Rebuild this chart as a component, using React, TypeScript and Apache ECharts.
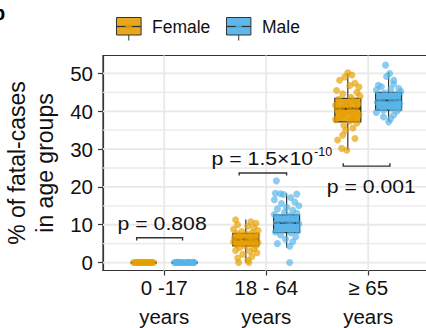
import React, { useEffect, useRef } from 'react';
import * as echarts from 'echarts';

// ---------- data ----------
const categories = ['0 -17\nyears', '18 - 64\nyears', '≥ 65\nyears'];
const yTicks = [0, 10, 20, 30, 40, 50];
const yMinorTicks = [5, 15, 25, 35, 45];
const xTicks = [1, 2, 3];

// [low whisker, q1, median, q3, high whisker] per age group
const femaleBox = [
  [0, 0, 0, 0, 0],
  [0, 4.4, 6.1, 7.7, 11.4],
  [29.7, 37.2, 40.7, 43.4, 50.0],
];
const maleBox = [
  [0, 0, 0, 0, 0],
  [3.9, 7.9, 10.5, 12.6, 18.3],
  [37.2, 40.3, 42.9, 45.0, 50.3],
];

// jittered points: [horizontal jitter, value]
const g1Female = [
  [-0.1, 0], [-0.085, 0], [-0.07, 0], [-0.055, 0], [-0.04, 0], [-0.025, 0], [-0.01, 0],
  [0.005, 0], [0.02, 0], [0.035, 0], [0.05, 0], [0.065, 0], [0.08, 0], [0.095, 0],
  [-0.062, 0.1], [0.028, 0.1], [0.072, 0.05], [-0.018, 0.05],
];
const g1Male = [
  [-0.1, 0], [-0.085, 0], [-0.07, 0], [-0.055, 0], [-0.04, 0], [-0.025, 0], [-0.01, 0],
  [0.005, 0], [0.02, 0], [0.035, 0], [0.05, 0], [0.065, 0], [0.08, 0], [0.095, 0],
  [-0.048, 0.1], [0.042, 0.1], [0.088, 0.05], [-0.078, 0.05],
];
const g2Female = [
  [-0.10, 11.3], [0.05, 10.8], [0.10, 10.4], [-0.08, 10.0], [0.02, 9.6], [0.08, 9.2],
  [-0.12, 8.8], [0.12, 8.5], [-0.04, 8.2], [0.06, 7.9], [-0.09, 7.7], [0.01, 7.5],
  [0.11, 7.2], [-0.06, 7.0], [0.04, 6.8], [-0.11, 6.6], [0.09, 6.4], [-0.02, 6.2],
  [0.07, 6.1], [-0.07, 5.9], [0.03, 5.7], [-0.12, 5.5], [0.12, 5.3], [-0.04, 5.1],
  [0.05, 4.9], [-0.09, 4.7], [0.10, 4.5], [0.00, 4.4], [-0.06, 4.0], [0.08, 3.6],
  [-0.10, 3.2], [0.04, 3.0], [0.11, 2.6], [-0.03, 2.2], [0.06, 1.6], [-0.08, 1.2],
  [0.02, 0.6], [-0.07, 0], [0.03, 0],
];
const g2Male = [
  [-0.10, 21.6], [-0.11, 18.3], [-0.06, 18.2], [-0.03, 18.0], [0.10, 18.1], [0.04, 17.2],
  [-0.12, 16.6], [0.08, 16.0], [-0.05, 15.6], [0.12, 15.0], [0.00, 14.6], [-0.09, 14.2],
  [0.06, 13.8], [-0.02, 13.3], [0.10, 13.0], [-0.12, 12.7], [0.03, 12.4], [-0.07, 12.0],
  [0.09, 11.6], [-0.04, 11.2], [0.05, 10.9], [-0.10, 10.5], [0.12, 10.2], [0.01, 9.9],
  [-0.08, 9.5], [0.07, 9.2], [-0.03, 8.8], [0.11, 8.4], [-0.11, 8.1], [0.04, 7.8],
  [-0.06, 7.3], [0.09, 6.8], [-0.01, 6.2], [0.06, 5.5], [-0.09, 5.0], [0.03, 4.3],
  [0.03, 0],
];
const g3Female = [
  [0.00, 50.2], [0.04, 49.6], [-0.03, 49.1], [0.07, 47.4], [-0.08, 48.2], [0.11, 46.4],
  [0.02, 46.8], [-0.11, 45.5], [0.09, 45.0], [-0.05, 44.6], [0.12, 44.0], [0.03, 43.7],
  [-0.09, 43.2], [0.06, 42.8], [-0.02, 42.4], [0.10, 42.0], [-0.12, 41.6], [0.01, 41.2],
  [-0.06, 40.9], [0.08, 40.6], [-0.10, 40.2], [0.04, 39.8], [-0.03, 39.4], [0.11, 39.0],
  [-0.07, 38.6], [0.06, 38.2], [-0.12, 37.8], [0.02, 37.4], [0.09, 36.9], [-0.04, 36.3],
  [0.05, 35.6], [-0.02, 35.0], [-0.05, 33.7], [0.07, 32.8], [-0.10, 32.4], [-0.06, 30.2],
  [-0.01, 29.7],
];
const g3Male = [
  [-0.03, 52.2], [0.01, 50.0], [-0.02, 49.2], [0.05, 48.2], [-0.10, 46.9], [-0.07, 46.5],
  [0.05, 47.2], [0.10, 46.0], [-0.12, 45.6], [0.02, 45.8], [0.12, 45.2], [-0.04, 44.8],
  [0.07, 44.4], [-0.09, 44.0], [0.00, 43.7], [0.09, 43.3], [-0.06, 43.0], [0.04, 42.7],
  [-0.11, 42.4], [0.11, 42.1], [-0.01, 41.8], [0.06, 41.5], [-0.08, 41.2], [0.03, 40.9],
  [0.10, 40.6], [-0.05, 40.3], [0.08, 40.0], [-0.12, 39.7], [0.05, 39.0], [-0.05, 38.5],
  [0.02, 38.0], [0.00, 37.2],
];
const femalePoints = [g1Female, g2Female, g3Female];
const malePoints = [g1Male, g2Male, g3Male];

// significance brackets
const bracketX1 = [0.73, 1.735, 2.755];
const bracketX2 = [1.18, 2.2, 3.213];
const bracketY = [6.55, 23.7, 25.5];
const bracketTip = [-0.7, -0.7, 0.75];
const pText = ['p = 0.808', 'p = 1.5×10', 'p = 0.001'];
const pSup = ['', '-10', ''];
const pX = [0.98, 2.46, 3.03];
const pY = [10.3, 27.4, 20.0];
const pAlign = ['center', 'right', 'center'];

// ---------- styles ----------
const FEMALE = '#E69F00';
const MALE = '#56B4E9';
const FEMALE_FILL = '#E9A71E';
const MALE_FILL = '#5FB8EA';
const DARK = '#333333';
const FONT = '"Liberation Sans", Arial, Helvetica, sans-serif';
const DODGE = 0.2;
const BOX_W = 0.255;

function boxSeries(name: string, boxes: number[][], offset: number, fill: string) {
  return {
    type: 'custom',
    name,
    silent: true,
    z: 3,
    encode: { x: 0, y: [1, 2, 3, 4, 5] },
    data: boxes.map((b, i) => [i + 1 + offset, ...b]),
    renderItem: (params: any, api: any) => {
      const x = api.value(0);
      const lo = api.coord([x, api.value(1)]);
      const q1 = api.coord([x, api.value(2)]);
      const md = api.coord([x, api.value(3)]);
      const q3 = api.coord([x, api.value(4)]);
      const hi = api.coord([x, api.value(5)]);
      const w = api.size([BOX_W, 0])[0];
      return {
        type: 'group',
        children: [
          { type: 'line', shape: { x1: lo[0], y1: lo[1], x2: q1[0], y2: q1[1] }, style: { stroke: DARK, lineWidth: 1.2 } },
          { type: 'line', shape: { x1: q3[0], y1: q3[1], x2: hi[0], y2: hi[1] }, style: { stroke: DARK, lineWidth: 1.2 } },
          {
            type: 'rect',
            shape: { x: q3[0] - w / 2, y: q3[1], width: w, height: q1[1] - q3[1] },
            style: { fill, stroke: DARK, lineWidth: 1.2 },
          },
          { type: 'line', shape: { x1: md[0] - w / 2, y1: md[1], x2: md[0] + w / 2, y2: md[1] }, style: { stroke: '#222', lineWidth: 2.2 } },
        ],
      };
    },
  };
}

function pointSeries(name: string, groups: number[][][], offset: number, color: string) {
  const data: number[][] = [];
  groups.forEach((pts, gi) => pts.forEach(([dx, v]) => data.push([gi + 1 + offset + dx, v])));
  return {
    type: 'scatter',
    name,
    silent: true,
    z: 4,
    symbolSize: 7,
    itemStyle: { color, opacity: 0.68 },
    data,
  };
}

const option: any = {
  animation: false,
  backgroundColor: '#ffffff',
  textStyle: { fontFamily: FONT },
  grid: {
    left: 103,
    top: 55.5,
    width: 326.4,
    height: 215,
    outerBoundsMode: 'none',
    containLabel: false,
    show: true,
    borderColor: DARK,
    borderWidth: 1.2,
    backgroundColor: 'transparent',
  },
  xAxis: {
    type: 'value',
    min: 0.4,
    max: 3.6,
    axisLine: { show: true, onZero: false, lineStyle: { color: DARK, width: 1.2 } },
    axisTick: { show: true, customValues: xTicks, length: 5, lineStyle: { color: DARK, width: 1.2 } },
    axisLabel: {
      customValues: xTicks,
      formatter: (v: number) => categories[Math.round(v) - 1] ?? '',
      fontSize: 20.5,
      lineHeight: 28.5,
      margin: 3,
      color: '#111',
      fontFamily: FONT,
    },
    splitLine: { show: false },
  },
  yAxis: {
    type: 'value',
    min: -2.1,
    max: 54.75,
    name: '% of fatal-cases\nin age groups',
    nameLocation: 'middle',
    nameRotate: 90,
    nameGap: 29,
    nameTextStyle: { fontSize: 23, lineHeight: 28, color: '#111', fontFamily: FONT },
    axisLine: { show: true, onZero: false, lineStyle: { color: DARK, width: 1.2 } },
    axisTick: { show: true, customValues: yTicks, length: 5, lineStyle: { color: DARK, width: 1.2 } },
    axisLabel: { customValues: yTicks, fontSize: 20.5, margin: 10, color: '#111', fontFamily: FONT },
    splitLine: { show: false },
  },
  graphic: [
    { type: 'text', left: -7, top: 3, style: { text: 'b', fontSize: 20, fontWeight: 'bold', fill: '#000', fontFamily: FONT } },
    // legend keys
    { type: 'line', shape: { x1: 128.8, y1: 35, x2: 128.8, y2: 40.5 }, style: { stroke: DARK, lineWidth: 1 } },
    { type: 'rect', shape: { x: 116.5, y: 17.5, width: 24.6, height: 17.5 }, style: { fill: FEMALE_FILL, stroke: DARK, lineWidth: 1 } },
    { type: 'line', shape: { x1: 116.5, y1: 26.5, x2: 141.1, y2: 26.5 }, style: { stroke: DARK, lineWidth: 1.3 } },
    { type: 'circle', shape: { cx: 128.8, cy: 26.3, r: 3.2 }, style: { fill: FEMALE, opacity: 0.85 } },
    { type: 'text', x: 152, y: 26.5, style: { text: 'Female', fontSize: 17.5, fill: '#111', fontFamily: FONT, verticalAlign: 'middle' } },
    { type: 'line', shape: { x1: 238.7, y1: 35, x2: 238.7, y2: 40.5 }, style: { stroke: DARK, lineWidth: 1 } },
    { type: 'rect', shape: { x: 226.5, y: 17.5, width: 24.4, height: 17.5 }, style: { fill: MALE_FILL, stroke: DARK, lineWidth: 1 } },
    { type: 'line', shape: { x1: 226.5, y1: 26.5, x2: 250.9, y2: 26.5 }, style: { stroke: DARK, lineWidth: 1.3 } },
    { type: 'circle', shape: { cx: 238.7, cy: 26.3, r: 3.2 }, style: { fill: MALE, opacity: 0.85 } },
    { type: 'text', x: 262, y: 26.5, style: { text: 'Male', fontSize: 17.5, fill: '#111', fontFamily: FONT, verticalAlign: 'middle' } },
  ],
  series: [
    // horizontal grid lines (major + minor)
    {
      type: 'custom',
      silent: true,
      z: 1,
      data: [...yTicks.map((v) => [v, 1.8]), ...yMinorTicks.map((v) => [v, 1.3])],
      encode: { y: 0 },
      renderItem: (params: any, api: any) => {
        const cs = params.coordSys;
        const y = api.coord([1, api.value(0)])[1];
        return {
          type: 'line',
          shape: { x1: cs.x, y1: y, x2: cs.x + cs.width, y2: y },
          style: { stroke: '#e8e8e8', lineWidth: api.value(1) },
        };
      },
    },
    // vertical grid lines
    {
      type: 'custom',
      silent: true,
      z: 1,
      data: xTicks.map((v) => [v]),
      encode: { x: 0 },
      renderItem: (params: any, api: any) => {
        const cs = params.coordSys;
        const x = api.coord([api.value(0), 0])[0];
        return {
          type: 'line',
          shape: { x1: x, y1: cs.y, x2: x, y2: cs.y + cs.height },
          style: { stroke: '#e8e8e8', lineWidth: 1.8 },
        };
      },
    },
    boxSeries('Female', femaleBox, -DODGE, FEMALE_FILL),
    boxSeries('Male', maleBox, DODGE, MALE_FILL),
    pointSeries('Female points', femalePoints, -DODGE, FEMALE),
    pointSeries('Male points', malePoints, DODGE, MALE),
    // significance brackets and p-values
    {
      type: 'custom',
      silent: true,
      z: 5,
      data: bracketY.map((y, i) => [bracketX1[i], bracketX2[i], y, bracketTip[i], pX[i], pY[i]]),
      encode: { x: [0, 1], y: 2 },
      renderItem: (params: any, api: any) => {
        const i = params.dataIndex;
        const a = api.coord([api.value(0), api.value(2)]);
        const b = api.coord([api.value(1), api.value(2)]);
        const tipY = api.coord([api.value(0), api.value(2) + api.value(3)])[1];
        const t = api.coord([api.value(4), api.value(5)]);
        const children: any[] = [
          {
            type: 'polyline',
            shape: { points: [[a[0], tipY], [a[0], a[1]], [b[0], b[1]], [b[0], tipY]] },
            style: { stroke: DARK, lineWidth: 1.4, fill: null },
          },
          {
            type: 'text',
            x: t[0],
            y: t[1],
            scaleX: 1.13,
            originX: 0,
            originY: 0,
            style: {
              text: pText[i],
              fontSize: 18.8,
              fill: '#111',
              fontFamily: FONT,
              align: pAlign[i],
              verticalAlign: 'middle',
            },
          },
        ];
        if (pSup[i]) {
          children.push({
            type: 'text',
            x: t[0] + 1,
            y: t[1] - 7,
            style: {
              text: pSup[i],
              fontSize: 12.5,
              fill: '#111',
              fontFamily: FONT,
              align: 'left',
              verticalAlign: 'middle',
            },
          });
        }
        return { type: 'group', children };
      },
    },
  ],
};

export default function App() {
  const ref = useRef<HTMLDivElement>(null);
  useEffect(() => {
    document.body.style.margin = '0';
    const chart = echarts.init(ref.current as HTMLDivElement, null, { renderer: 'svg' });
    chart.setOption(option);
    return () => chart.dispose();
  }, []);
  return (
    <div
      ref={ref}
      style={{ position: 'absolute', left: 0, top: 0, width: 426, height: 328, overflow: 'hidden' }}
    />
  );
}
